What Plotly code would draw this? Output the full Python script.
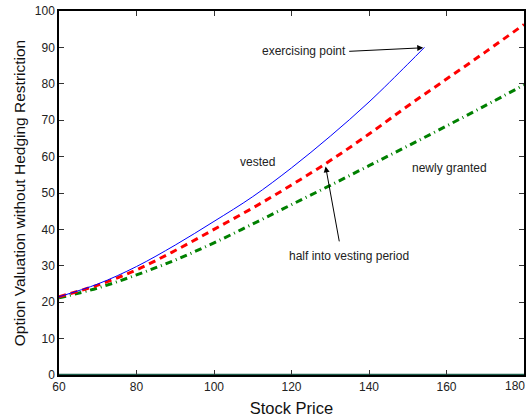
import plotly.graph_objects as go

# Data
x_vested = [60, 70, 80, 90, 100, 110, 120, 130, 140, 150, 154.3]
y_vested = [21.5, 25.0, 29.8, 35.7, 42.2, 49.0, 56.9, 65.6, 75.0, 85.4, 90.0]

x_half = [60, 70, 80, 90, 100, 110, 120, 130, 140, 150, 160, 170, 180]
y_half = [21.5, 24.7, 28.9, 34.2, 40.0, 45.9, 52.2, 58.9, 66.2, 73.9, 81.3, 88.7, 96.3]

x_new = [60, 70, 80, 90, 100, 110, 120, 130, 140, 150, 160, 170, 180]
y_new = [21.2, 23.9, 27.5, 31.6, 36.3, 41.5, 46.8, 52.1, 57.5, 62.9, 68.4, 74.0, 79.7]

x_zero = [60, 180]
y_zero = [0, 0]

x_ticks = [60, 80, 100, 120, 140, 160, 180]
y_ticks = [0, 10, 20, 30, 40, 50, 60, 70, 80, 90, 100]

FONT = "Liberation Sans, Arial, sans-serif"

fig = go.Figure()
fig.add_trace(go.Scatter(x=x_zero, y=y_zero, mode="lines",
                         line=dict(color="#1a5c4a", width=2.5), showlegend=False))
fig.add_trace(go.Scatter(x=x_new, y=y_new, mode="lines", line_shape="spline",
                         line=dict(color="#008000", width=3, dash="7px,4px,1px,4px"),
                         showlegend=False))
fig.add_trace(go.Scatter(x=x_half, y=y_half, mode="lines", line_shape="spline",
                         line=dict(color="#ff0000", width=3, dash="7px,5px"),
                         showlegend=False))
fig.add_trace(go.Scatter(x=x_vested, y=y_vested, mode="lines", line_shape="spline",
                         line=dict(color="#0000ff", width=1), showlegend=False))

ann_font = dict(family=FONT, size=12, color="#222222")
fig.add_annotation(x=154.0, y=89.9, ax=134.5, ay=88.9, xref="x", yref="y",
                   axref="x", ayref="y", showarrow=True, arrowhead=2,
                   arrowsize=1.2, arrowwidth=1, arrowcolor="black", text="")
fig.add_annotation(x=134.5, y=88.9, text="exercising point", showarrow=False,
                   xanchor="right", yanchor="middle", font=ann_font)
fig.add_annotation(x=128.8, y=57.3, ax=132.4, ay=36.3, xref="x", yref="y",
                   axref="x", ayref="y", showarrow=True, arrowhead=2,
                   arrowsize=1.2, arrowwidth=1, arrowcolor="black", text="")
fig.add_annotation(x=134.9, y=32.6, text="half into vesting period", showarrow=False,
                   font=ann_font)
fig.add_annotation(x=111.2, y=58.4, text="vested", showarrow=False, font=ann_font)
fig.add_annotation(x=160.9, y=57.0, text="newly granted", showarrow=False, font=ann_font)

tick_font = dict(family=FONT, size=12, color="#222222")
# last x tick label, kept inside the figure edge
fig.add_annotation(x=x_ticks[-1], y=0, xref="x", yref="paper", yanchor="top",
                   xanchor="right", xshift=3, yshift=-2, text=str(x_ticks[-1]),
                   showarrow=False, font=tick_font)

axis_common = dict(showline=True, linecolor="black", linewidth=1.5, mirror="ticks",
                   ticks="inside", ticklen=5, tickcolor="#333333", showgrid=False,
                   zeroline=False, tickfont=tick_font)
fig.update_xaxes(range=[60, 180], tickvals=x_ticks,
                 title=dict(text="Stock Price", font=dict(family=FONT, size=16.5, color="#111111"),
                            standoff=9),
                 **axis_common)
fig.update_yaxes(range=[0, 100], tickvals=y_ticks,
                 title=dict(text="Option Valuation without Hedging Restriction",
                            font=dict(family=FONT, size=15.5, color="#111111"), standoff=5),
                 **axis_common)
fig.update_layout(width=530, height=419, margin=dict(l=59, r=4, t=8, b=43),
                  plot_bgcolor="white", paper_bgcolor="white")
fig.write_html("out.html")
